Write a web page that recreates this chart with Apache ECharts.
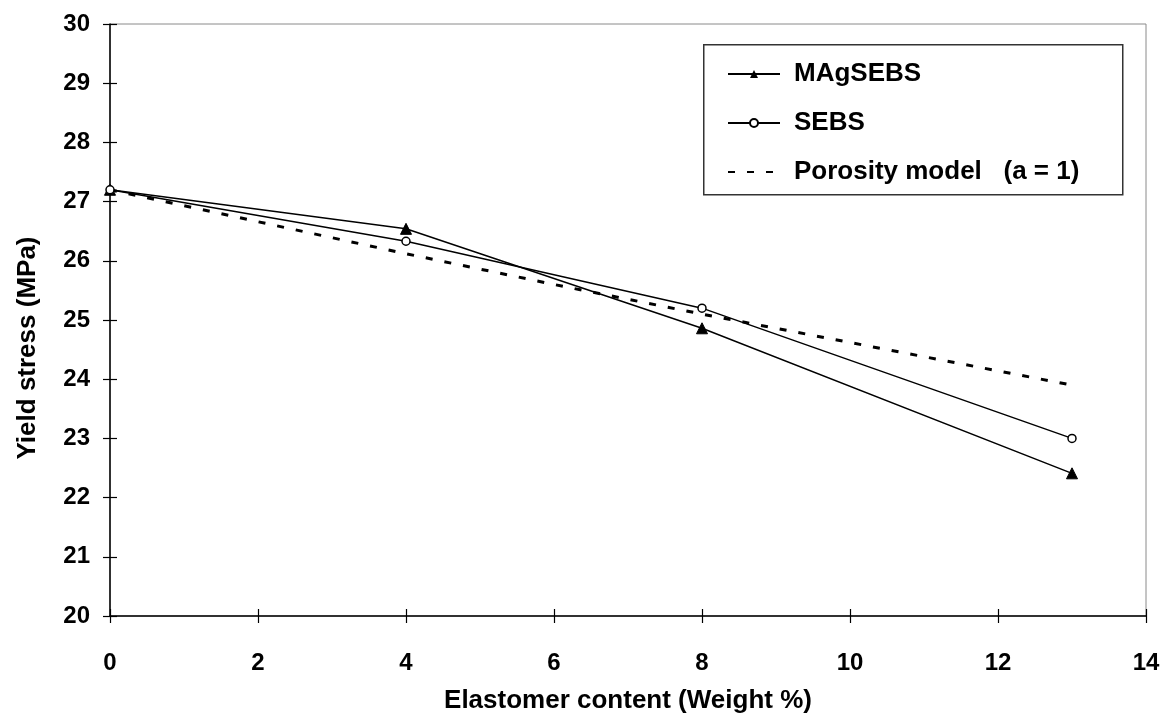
<!DOCTYPE html>
<html>
<head>
<meta charset="utf-8">
<script src="https://cdn.jsdelivr.net/npm/echarts@6/dist/echarts.min.js"></script>
<style>
html,body{margin:0;padding:0;background:#fff;}
#chart{width:1163px;height:714px;}
</style>
</head>
<body>
<div id="chart"></div>
<script>
const xValues = [0, 4, 8, 13];
const magsebs = [27.2, 26.54, 24.86, 22.41];
const sebs = [27.2, 26.33, 25.2, 23.0];
const porosityX = [0, 2, 4, 6, 8, 10, 13];
const porosity = [27.2, 26.66, 26.12, 25.6, 25.1, 24.62, 23.9];
const seriesNames = ['MAgSEBS', 'SEBS', 'Porosity model   (a = 1)'];
const xTitle = 'Elastomer content (Weight %)';
const yTitle = 'Yield stress (MPa)';

const pairs = (xs, ys) => xs.map((x, i) => [x, ys[i]]);
const FONT = '"Liberation Sans", Arial, sans-serif';

const chart = echarts.init(document.getElementById('chart'), null, {renderer: 'canvas'});
const tickLabel = {fontFamily: FONT, fontWeight: 'bold', fontSize: 24, color: '#000'};
chart.setOption({
  backgroundColor: '#fff',
  animation: false,
  grid: {left: 110, right: 17, top: 24, bottom: 98, containLabel: false, outerBoundsMode: 'none',
         show: true, borderColor: '#8a8a8a', borderWidth: 1, backgroundColor: 'transparent'},
  graphic: [{
    type: 'rect', left: 703, top: 44, z: 5,
    shape: {width: 419, height: 150},
    style: {fill: '#fff', stroke: '#333', lineWidth: 1.5}
  }],
  legend: {
    orient: 'vertical', left: 727, top: 59, z: 10, padding: 0,
    itemWidth: 52, itemHeight: 10, itemGap: 19,
    textStyle: {fontFamily: FONT, fontWeight: 'bold', fontSize: 26, color: '#000', lineHeight: 30, padding: [0, 0, 0, 9]},
    data: [
      {name: seriesNames[0]},
      {name: seriesNames[1]},
      {name: seriesNames[2], itemStyle: {opacity: 0}}
    ]
  },
  xAxis: [{
    type: 'value', min: 0, max: 14, interval: 2,
    name: xTitle, nameLocation: 'middle', nameGap: 72,
    nameTextStyle: {fontFamily: FONT, fontWeight: 'bold', fontSize: 26, color: '#000'},
    axisLine: {show: true, onZero: false, lineStyle: {color: '#000', width: 1.5}},
    axisTick: {show: true, inside: false, length: 7, lineStyle: {color: '#000', width: 1.2}},
    axisLabel: Object.assign({margin: 35}, tickLabel),
    splitLine: {show: false}
  }, {
    type: 'value', min: 0, max: 14, interval: 2, position: 'bottom',
    axisLine: {show: false},
    axisTick: {show: true, inside: true, length: 7, lineStyle: {color: '#000', width: 1.2}},
    axisLabel: {show: false}, splitLine: {show: false}
  }],
  yAxis: [{
    type: 'value', min: 20, max: 30, interval: 1,
    name: yTitle, nameLocation: 'middle', nameGap: 69,
    nameTextStyle: {fontFamily: FONT, fontWeight: 'bold', fontSize: 26, color: '#000', padding: [0, 56, 0, 0]},
    axisLine: {show: true, onZero: false, lineStyle: {color: '#000', width: 1.5}},
    axisTick: {show: true, inside: false, length: 7, lineStyle: {color: '#000', width: 1.2}},
    axisLabel: Object.assign({margin: 20}, tickLabel),
    splitLine: {show: false}
  }, {
    type: 'value', min: 20, max: 30, interval: 1, position: 'left',
    axisLine: {show: false},
    axisTick: {show: true, inside: true, length: 7, lineStyle: {color: '#000', width: 1.2}},
    axisLabel: {show: false}, splitLine: {show: false}
  }],
  series: [{
    name: seriesNames[2], type: 'line', data: pairs(porosityX, porosity),
    symbol: 'none',
    lineStyle: {color: '#000', width: 3, type: [7, 12]},
    itemStyle: {color: '#000'}, z: 2
  }, {
    name: seriesNames[0], type: 'line', data: pairs(xValues, magsebs),
    symbol: 'triangle', symbolSize: 11,
    lineStyle: {color: '#000', width: 1.5},
    itemStyle: {color: '#000', borderColor: '#000'}, z: 3
  }, {
    name: seriesNames[1], type: 'line', data: pairs(xValues, sebs),
    symbol: 'circle', symbolSize: 8,
    lineStyle: {color: '#000', width: 1.5},
    itemStyle: {color: '#fff', borderColor: '#000', borderWidth: 1.5}, z: 4
  }]
});
</script>
</body>
</html>
